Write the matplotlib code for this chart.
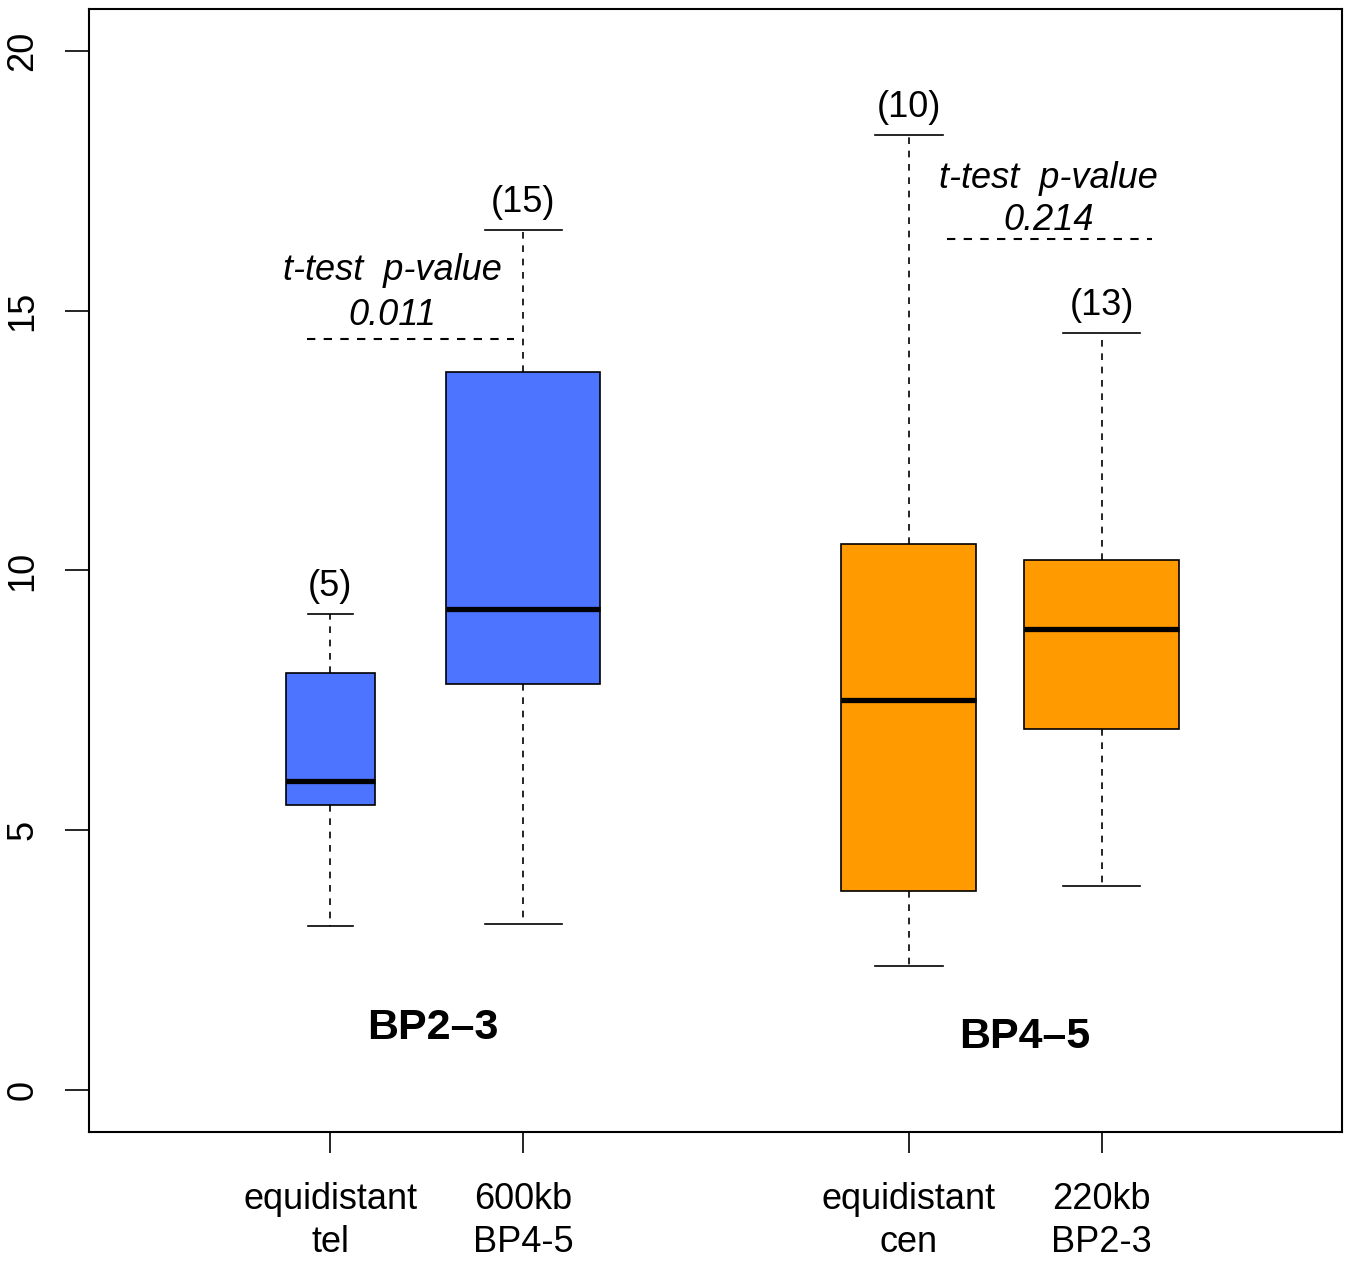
import matplotlib
matplotlib.use("Agg")
import matplotlib.pyplot as plt

plt.rcParams['font.family'] = ['Liberation Sans', 'DejaVu Sans']

# box statistics per group
positions = [1, 2, 4, 5]
labels = ["equidistant\ntel", "600kb\nBP4-5", "equidistant\ncen", "220kb\nBP2-3"]
whislo = [3.16, 3.20, 2.39, 3.93]
q1 = [5.49, 7.82, 3.83, 6.95]
med = [5.95, 9.26, 7.51, 8.87]
q3 = [8.03, 13.82, 10.51, 10.20]
whishi = [9.16, 16.55, 18.38, 14.57]
counts = [5, 15, 10, 13]
widths = [0.46, 0.80, 0.70, 0.80]
colors = ["#4D74FF", "#4D74FF", "#FF9A00", "#FF9A00"]

# t-test results: (line x start, line x end, line y, text x, title y, value y, p-value)
pvals = [(0.88, 1.95, 14.46, 1.32, 15.77, 14.90, "0.011"),
         (4.2, 5.26, 16.38, 4.725, 17.55, 16.73, "0.214")]
groups = [(1.53, 1.19, "BP2\u20133"), (4.6, 1.02, "BP4\u20135")]

fig = plt.figure(figsize=(13.47, 12.61), dpi=100)
ax = fig.add_axes([0.0661, 0.1023, 0.9302, 0.8906])

stats = []
for i in range(len(positions)):
    stats.append(dict(whislo=whislo[i], q1=q1[i], med=med[i], q3=q3[i], whishi=whishi[i]))

bp = ax.bxp(stats, positions=positions, widths=widths, patch_artist=True,
            showfliers=False,
            boxprops=dict(linewidth=1.2, edgecolor="black"),
            medianprops=dict(color="black", linewidth=3.8, solid_capstyle="butt"),
            whiskerprops=dict(linestyle=(0, (4, 4)), linewidth=1.2, color="black"),
            capprops=dict(linewidth=1.2, color="black"),
            capwidths=[w / 2 for w in widths])
for patch, c in zip(bp["boxes"], colors):
    patch.set_facecolor(c)

for x, top, n in zip(positions, whishi, counts):
    ax.text(x, top + 0.2, "(%d)" % n, ha="center", va="bottom", fontsize=26)

for x0, x1, y, xt, yt, yv, p in pvals:
    ax.plot([x0, x1], [y, y], color="black", linestyle=(0, (4, 4)), linewidth=1.5)
    ax.text(xt, yt, "t-test  p-value", ha="center", va="center", fontsize=26, style="italic")
    ax.text(xt, yv, p, ha="center", va="center", fontsize=26, style="italic")

for x, y, t in groups:
    ax.text(x, y, t, ha="center", va="center", fontsize=31, fontweight="bold")

ax.set_xlim(-0.252, 6.247)
ax.set_ylim(-0.81, 20.81)
ax.set_xticks(positions)
ax.set_xticklabels(labels, fontsize=26, linespacing=1.3)
ax.set_yticks([0, 5, 10, 15, 20])
ax.set_yticklabels(["0", "5", "10", "15", "20"], fontsize=26, rotation=90, va="center")
ax.tick_params(axis="y", length=17, width=1.2, pad=18)
ax.tick_params(axis="x", length=15, width=1.2, pad=21)
for s in ax.spines.values():
    s.set_linewidth(1.5)

fig.savefig("out.png", dpi=100)
